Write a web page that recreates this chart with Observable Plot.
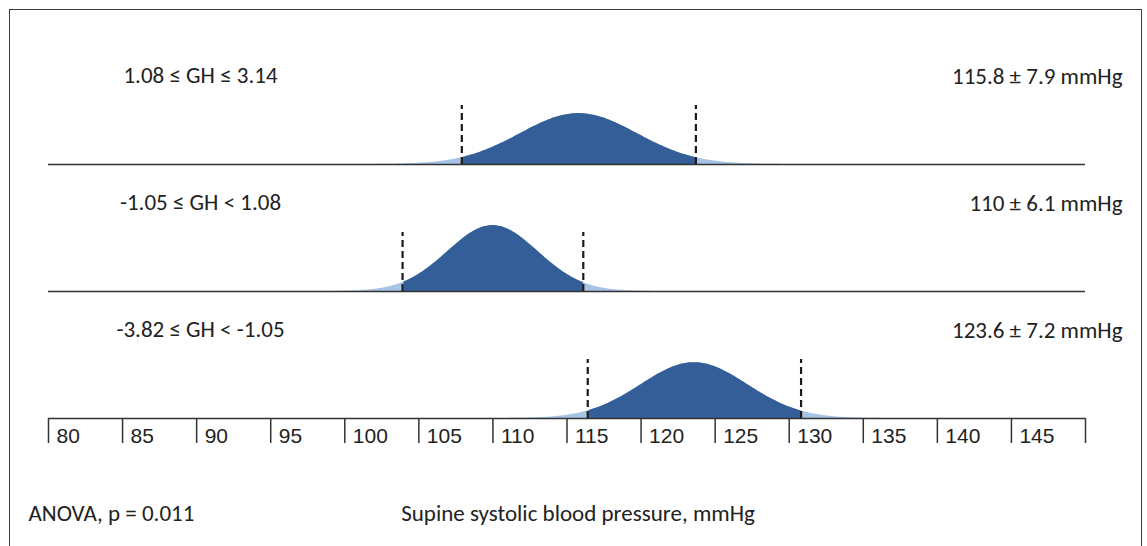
<!DOCTYPE html>
<html><head><meta charset="utf-8">
<script src="https://cdn.jsdelivr.net/npm/d3@7"></script>
<script src="https://cdn.jsdelivr.net/npm/@observablehq/plot@0.6"></script>
<style>
html,body{margin:0;padding:0;background:#fff;overflow:hidden}
#wrap{position:relative;width:1147px;height:546px;overflow:hidden;background:#fff}
#border{position:absolute;left:9px;top:9px;width:1133px;height:620px;border:1.6px solid #3a3a3a;box-sizing:border-box;pointer-events:none}
#chart g[aria-label="x-axis tick label"] text{font-family:'Liberation Sans',Arial,Helvetica,sans-serif !important;font-size:21px !important}
</style></head><body>
<div id="wrap"><div id="chart"></div><div id="border"></div></div>
<script>
// ---- data ----
const groups = ["high", "mid", "low"];
const groupLabels = ["1.08 ≤ GH ≤ 3.14", "-1.05 ≤ GH < 1.08", "-3.82 ≤ GH < -1.05"];
const means = [115.8, 110, 123.6];
const sds = [7.9, 6.1, 7.2];
const statLabels = ["115.8 ± 7.9 mmHg", "110 ± 6.1 mmHg", "123.6 ± 7.2 mmHg"];
const tickValues = [80, 85, 90, 95, 100, 105, 110, 115, 120, 125, 130, 135, 140, 145, 150];
const tickLabels = ["80", "85", "90", "95", "100", "105", "110", "115", "120", "125", "130", "135", "140", "145", ""];
const xDomain = [80, 150];
const anovaNote = "ANOVA, p = 0.011";
const xTitle = "Supine systolic blood pressure, mmHg";

// ---- derived tables ----
const rows = groups.map((g, i) => ({group: g, label: groupLabels[i], stat: statLabels[i], mean: means[i], sd: sds[i]}));
const curve = [];
rows.forEach(r => {
  const s = r.sd / 2;
  for (let x = xDomain[0]; x <= xDomain[1] + 1e-9; x += 0.1) {
    const z = (x - r.mean) / s;
    curve.push({group: r.group, x, y: Math.exp(-0.5 * z * z) / (s * Math.sqrt(2 * Math.PI)), inner: Math.abs(x - r.mean) <= r.sd});
  }
});
const inner = curve.filter(d => d.inner);
const dashes = rows.flatMap(r => [{group: r.group, x: r.mean - r.sd}, {group: r.group, x: r.mean + r.sd}]);

const calibri = "Carlito, Calibri, Lato, 'Open Sans', sans-serif";
const arial = "'Liberation Sans', Arial, Helvetica, sans-serif";
const fs = 23;

const chart = Plot.plot({
  width: 1147,
  height: 546,
  marginLeft: 48,
  marginRight: 62,
  marginTop: 36,
  marginBottom: 128,
  style: {background: "transparent", color: "#2a2a2a", fontFamily: arial, fontSize: "21px"},
  x: {domain: xDomain, axis: null},
  y: {domain: [0, 0.252], axis: null},
  fy: {domain: groups, axis: null, padding: 0},
  marks: [
    Plot.areaY(curve, {x: "x", y: "y", fy: "group", z: "group", fill: "#a7c3e5", curve: "linear"}),
    Plot.areaY(inner, {x: "x", y: "y", fy: "group", z: "group", fill: "#345e98", curve: "linear"}),
    Plot.ruleY([0], {stroke: "#333", strokeWidth: 1.6}),
    Plot.ruleX(dashes, {x: "x", fy: "group", y1: 0, y2: 0.117, stroke: "#1a1a1a", strokeWidth: 2.2, strokeDasharray: "7,4"}),
    Plot.text(rows, {fy: "group", text: "label", frameAnchor: "top-left", dx: 152, dy: 38, textAnchor: "middle", lineAnchor: "middle", fontSize: fs, fontFamily: calibri, fill: "#222"}),
    Plot.text(rows, {fy: "group", text: "stat", frameAnchor: "top-right", dx: 37, dy: 39, textAnchor: "end", lineAnchor: "middle", fontSize: fs, fontFamily: calibri, fill: "#222"}),
    // tick lines
    Plot.axisX({ticks: tickValues, tickFormat: () => "", tickSize: 25, label: null, stroke: "#333", strokeWidth: 1.5}),
    // tick labels, set to the right of each tick
    Plot.axisX({ticks: tickValues, tickFormat: d => tickLabels[tickValues.indexOf(d)], tickSize: 0, tickPadding: 10, textAnchor: "start", dx: 8, fontSize: 21, fontFamily: arial, label: null, fill: "#222"}),
    Plot.text([anovaNote], {fy: () => groups[groups.length - 1], text: d => d, frameAnchor: "bottom-left", dx: -20, dy: 95, textAnchor: "start", lineAnchor: "middle", fontSize: fs, fontFamily: calibri, fill: "#222"}),
    Plot.text([xTitle], {fy: () => groups[groups.length - 1], text: d => d, frameAnchor: "bottom", dx: 11, dy: 95, textAnchor: "middle", lineAnchor: "middle", fontSize: fs, fontFamily: calibri, fill: "#222"})
  ]
});
document.getElementById("chart").appendChild(chart);
</script>
</body></html>
